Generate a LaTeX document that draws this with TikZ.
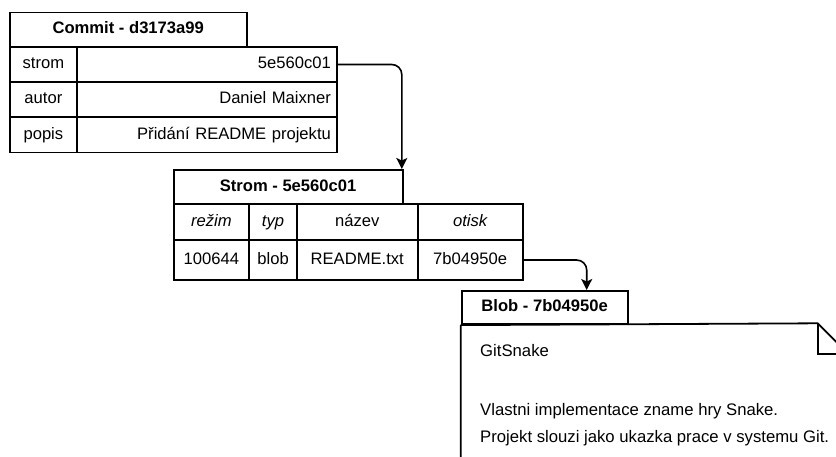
\documentclass[tikz,border=0pt]{standalone}
\usepackage{fontspec}
\setmainfont{Liberation Sans}
\usetikzlibrary{arrows.meta,calc}

\tikzset{
  x=1pt, y=-1pt,
  every node/.style={font=\fontsize{16.6}{20}\selectfont},
  cell/.style={draw, line width=1.8pt, inner sep=0pt, anchor=north west,
    text height=12pt, text depth=3.6pt},
  hdr/.style={cell, font=\fontsize{16.6}{20}\selectfont\bfseries},
  ital/.style={font=\fontsize{16.6}{20}\selectfont\itshape},
  valcell/.style={cell, align=right, inner xsep=6pt},
  conn/.style={line width=1.6pt, rounded corners=10pt,
    -{Stealth[length=11pt,width=11pt,inset=2.5pt]}},
  blobtext/.style={anchor=base west, inner sep=0pt, font=\fontsize{16.7}{20}\selectfont},
}

\begin{document}
\begin{tikzpicture}
\useasboundingbox (0,0) rectangle (836,457);
\clip (0,0) rectangle (836,457);

% Commit object
\node[hdr, minimum width=236.7pt, minimum height=34.3pt] (c-head) at (9,11.7) {Commit - d3173a99};
\node[cell, minimum width=67pt, minimum height=35.2pt] (c-k1) at (9,46) {strom};
\node[valcell, text width=248pt, minimum height=35.2pt] (c-v1) at (76,46) {5e560c01};
\node[cell, minimum width=67pt, minimum height=35.2pt] (c-k2) at (9,81.2) {autor};
\node[valcell, text width=248pt, minimum height=35.2pt] (c-v2) at (76,81.2) {Daniel Maixner};
\node[cell, minimum width=67pt, minimum height=35.2pt] (c-k3) at (9,116.4) {popis};
\node[valcell, text width=248pt, minimum height=35.2pt] (c-v3) at (76,116.4) {Přidání README projektu};

% Tree object
\node[hdr, minimum width=229pt, minimum height=34.3pt] (s-head) at (172.7,169) {Strom - 5e560c01};
\node[cell, ital, minimum width=75.6pt, minimum height=35.7pt] (s-h1) at (172.7,203.3) {režim};
\node[cell, ital, minimum width=47.7pt, minimum height=35.7pt] (s-h2) at (248.3,203.3) {typ};
\node[cell, minimum width=120.7pt, minimum height=35.7pt] (s-h3) at (296,203.3) {název};
\node[cell, ital, minimum width=105pt, minimum height=35.7pt] (s-h4) at (416.7,203.3) {otisk};
\node[cell, minimum width=75.6pt, minimum height=40.3pt] (s-v1) at (172.7,239) {100644};
\node[cell, minimum width=47.7pt, minimum height=40.3pt] (s-v2) at (248.3,239) {blob};
\node[cell, minimum width=120.7pt, minimum height=40.3pt] (s-v3) at (296,239) {README.txt};
\node[cell, minimum width=105pt, minimum height=40.3pt] (s-v4) at (416.7,239) {7b04950e};

% Blob object
\node[hdr, minimum width=166pt, minimum height=33.3pt] (b-head) at (460.7,290) {Blob - 7b04950e};
\coordinate (b-fold) at (817.7,323.3);
\draw[line width=1.8pt, line join=miter]
  (b-head.south west) -- ++(0,200)
  (b-head.south west) -- (b-fold) -- ++(40,40);
\draw[line width=1.8pt] (b-fold) -- ++(0,30.7) -- ++(40,0);
\node[blobtext] (b-t1) at (480,356) {GitSnake};
\node[blobtext] (b-t2) at (480,415) {Vlastni implementace zname hry Snake.};
\node[blobtext] (b-t3) at (480,442) {Projekt slouzi jako ukazka prace v systemu Git.};

% References between objects
\draw[conn] (c-v1.east) -| ($(s-head.north east)+(-1.7,0)$);
\draw[conn] (s-v4.east) -| ($(b-head.north west)+(126,0)$);
\end{tikzpicture}
\end{document}
